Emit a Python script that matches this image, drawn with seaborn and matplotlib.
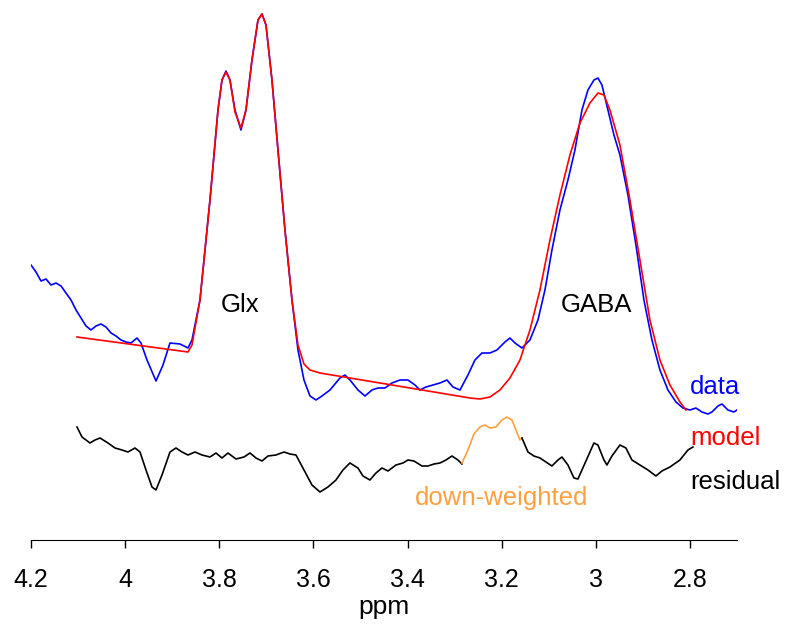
import numpy as np
import pandas as pd
import matplotlib
matplotlib.use("Agg")
import matplotlib.pyplot as plt
import seaborn as sns

# Values as (position, height) pairs:
# position in chart units along the axis (0 = 4.2 ppm, 659 = 2.8 ppm), height above the axis line.
data_pts = [(0,275),(5,268),(10,259),(15,261),(20,255),(25,257),(30,254),(35,247),(40,240),(45,230),
            (50,222),(55,214),(60,210),(65,214),(70,216),(75,213),(80,207),(85,204),(90,200),(95,198),
            (100,197),(106,202),(110,197),(116,180),(125,159),(132,175),(139,197),(149,196),(157,192),
            (161,200),(169,240),(179,340),(187,430),(191,460),(195,469),(199,460),(204,430),(210,410),
            (215,430),(221,480),(227,520),(231,526),(235,515),(241,460),(247,390),(254,310),(261,240),
            (267,190),(273,160),(279,144),(285,140),(291,144),(299,150),(309,162),(314,165),(319,160),
            (327,150),(334,144),(341,150),(347,152),(354,152),(361,157),(369,160),(377,160),(384,155),
            (389,150),(395,153),(402,155),(409,157),(416,160),(422,153),(429,150),(437,165),(444,180),
            (451,187),(459,187),(466,190),(474,198),(479,202),(484,197),(491,192),(499,200),(507,220),
            (514,250),(521,290),(529,330),(537,360),(544,390),(551,430),(557,450),(563,460),(567,462),
            (571,455),(577,430),(583,405),(589,385),(597,345),(605,295),(613,240),(621,200),(629,170),
            (637,150),(645,138),(652,132),(659,130),(665,132),(671,128),(677,126),(681,128),(687,134),
            (691,136),(697,130),(703,128),(706,130)]
model_pts = [(46,203),(157,188),(161,195),(169,240),(179,340),(187,430),(191,460),(195,468),(199,460),
             (204,428),(210,412),(215,430),(221,480),(227,520),(231,526),(235,515),(241,460),(247,390),
             (254,310),(261,240),(267,195),(273,176),(279,170),(289,167),(439,142),(449,141),(459,143),
             (469,150),(479,162),(489,180),(499,210),(509,250),(519,300),(529,345),(539,385),(549,417),
             (559,437),(567,447),(573,445),(579,430),(589,395),(599,340),(609,280),(619,220),(629,180),
             (639,155),(649,138),(655,130)]
resid_pts = [(46,113),(51,103),(59,97),(64,100),(69,102),(77,97),(84,92),(91,90),(97,88),(104,92),
             (109,88),(115,70),(121,53),(125,50),(131,65),(139,88),(145,92),(151,88),(157,85),(164,88),
             (171,85),(179,83),(185,87),(191,82),(197,87),(205,81),(213,83),(219,87),(225,82),(231,79),
             (237,84),(245,85),(253,88),(259,86),(265,85),(273,70),(281,55),(289,48),(297,53),(305,60),
             (312,70),(319,77),(327,72),(332,64),(339,60),(345,67),(351,72),(357,69),(365,75),(372,77),
             (377,80),(383,79),(391,74),(397,74),(403,76),(409,77),(415,80),(421,84),(427,80),(431,76)]
downw_pts = [(431,77),(437,90),(443,106),(449,113),(454,115),(459,112),(465,113),(471,120),(476,123),
             (481,120),(485,110),(489,100),(491,102)]
resid2_pts = [(491,102),(497,88),(503,84),(509,82),(515,78),(521,74),(527,80),(531,83),(537,75),(543,62),
              (547,61),(551,70),(559,88),(563,97),(567,95),(573,80),(576,75),(581,84),(589,95),(595,92),
              (601,80),(609,75),(617,70),(625,64),(631,69),(639,73),(649,80),(657,90),(662,93)]

labels_x = ["4.2", "4", "3.8", "3.6", "3.4", "3.2", "3", "2.8"]
ticks_ppm = [4.2, 4.0, 3.8, 3.6, 3.4, 3.2, 3.0, 2.8]

def to_ppm(p):
    return 4.2 - np.asarray(p, float) * 1.4 / 659

plt.rcParams['font.family'] = ['Liberation Sans', 'DejaVu Sans']
fig = plt.figure(figsize=(7.86, 6.28), dpi=100)
ax = fig.add_axes([31/786, 88/628, 706/786, 540/628])

def draw(pts, color):
    a = np.array(pts, float)
    df = pd.DataFrame({"ppm": to_ppm(a[:, 0]), "s": a[:, 1]})
    sns.lineplot(data=df, x="ppm", y="s", sort=False, color=color, lw=1.2, ax=ax, estimator=None)

draw(data_pts, "#0000ff")
draw(model_pts, "#ff0000")
draw(resid_pts, "black")
draw(downw_pts, "#ffa040")
draw(resid2_pts, "black")

ax.set_xlim(4.2, 2.7)
ax.set_ylim(0, 540)
ax.set_xticks(ticks_ppm)
ax.set_xticklabels(labels_x, fontsize=18)
ax.set_yticks([])
for s in ["top", "right", "left"]:
    ax.spines[s].set_visible(False)
ax.tick_params(axis='x', length=6, width=1, pad=14)
ax.set_xlabel("ppm", fontsize=19, labelpad=2)
ax.set_ylabel("")

def txt(px, py, s, color, ha="center"):
    ax.text(to_ppm(px - 31), 540 - py, s, color=color, fontsize=18.5, ha=ha, va="center")

txt(240, 305, "Glx", "black")
txt(596, 305, "GABA", "black")
txt(690, 387, "data", "#0000ff", "left")
txt(690, 438, "model", "#ff0000", "left")
txt(690, 482, "residual", "black", "left")
txt(502, 498, "down-weighted", "#ffa040")

fig.savefig("out.png", dpi=100)
